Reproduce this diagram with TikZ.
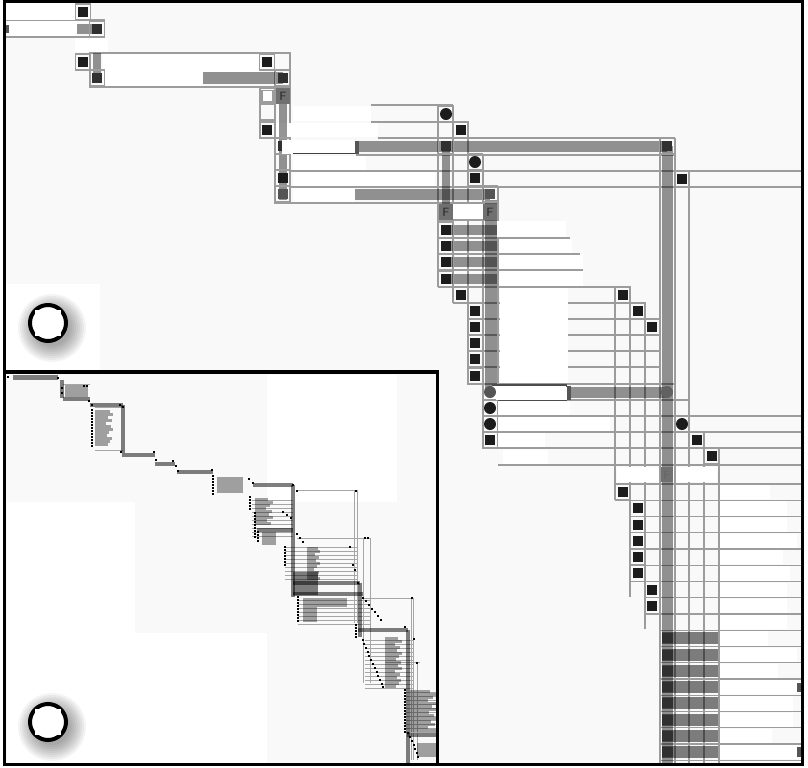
\documentclass[tikz,border=0pt]{standalone}
\usetikzlibrary{calc}
\definecolor{bgc}{HTML}{F9F9F9}
\definecolor{linec}{HTML}{9C9C9C}
\definecolor{sqc}{HTML}{1C1C1C}
\definecolor{dkc}{HTML}{303030}
\definecolor{mgc}{HTML}{555555}
\definecolor{fgc}{HTML}{707070}
\newcommand\Mbox[2]{\draw[cellline] (#1-7.5,#2-8) rectangle (#1+7.5,#2+8);}
\newcommand\Msq[2]{\Mbox{#1}{#2}\fill[sqc] (#1-5,#2-5) rectangle (#1+5,#2+5);}
\newcommand\Mdk[2]{\Mbox{#1}{#2}\fill[dkc] (#1-5,#2-5) rectangle (#1+5,#2+5);}
\newcommand\Mgr[2]{\Mbox{#1}{#2}\fill[mgc] (#1-5,#2-5) rectangle (#1+5,#2+5);}
\newcommand\Mci[2]{\Mbox{#1}{#2}\fill[sqc] (#1,#2) circle[radius=6];}
\newcommand\Idot[2]{\fill[black] (#1-1.4,#2-1.4) rectangle (#1+1.4,#2+1.4);}
\newcommand\Ibars[4]{% x0, y0, step, list of ends
  \foreach \e [count=\i from 0] in {#4} {\fill[black, fill opacity=0.36] (#1,#2+#3*\i) rectangle (\e,#2+#3*\i+2.6);}}
\begin{document}
\begin{tikzpicture}[x=0.75pt,y=-0.75pt,
  cellline/.style={draw=linec, line width=0.8pt},
  band/.style={draw=black, draw opacity=0.42, line width=#1, line cap=butt},
  band/.default=8.25pt,
  iband/.style={draw=black, draw opacity=0.5, line width=#1, line cap=butt},
  iband/.default=3pt,
  iblock/.style={fill=black, fill opacity=0.36},
  ithin/.style={draw=gray!70, line width=0.4pt},
  fbox/.style={fill=fgc},
  ftext/.style={font=\sffamily\fontsize{9}{9}\selectfont, text=black!85, inner sep=0pt}]
\useasboundingbox (0,0) rectangle (808,768);
\fill[white] (0,0) rectangle (808,768);
\fill[bgc] (4,1) rectangle (803,765);
\fill[white] (6,284) rectangle (100,370);

% ---------- thin grid lines ----------
\draw[cellline] (6,20)--(105,20) (6,37)--(105,37)
  (90,53) rectangle (290,87)
  (260,88) rectangle (275,138)
  (275,70) rectangle (290,203)
  (260,104) rectangle (275,120)
  (371,105)--(453,105) (371,122)--(468,122)
  (378,138)--(675,138) (356,155)--(675,155)
  (290,171)--(801,171) (290,187)--(801,187)
  (290,203)--(498,203) (438,220)--(498,220)
  (438,238)--(570,238) (438,254)--(580,254) (438,270)--(583,270) (438,287)--(630,287)
  (453,303)--(645,303) (468,319)--(660,319) (468,335)--(660,335) (468,351)--(660,351)
  (468,367)--(660,367) (468,384)--(675,384)
  (483,400)--(689,400) (483,416)--(801,416) (483,432)--(801,432) (483,448)--(801,448)
  (498,465)--(801,465)
  (438,105)--(438,287) (453,105)--(453,303) (468,122)--(468,384) (483,155)--(483,448) (498,187)--(498,448)
  (615,287)--(615,500) (630,287)--(630,597) (645,303)--(645,629) (660,138)--(660,765)
  (675,138)--(675,765) (689,171)--(689,765) (704,432)--(704,765) (719,448)--(719,765);
\foreach \k/\xs in {0/615,1/615,2/630,3/630,4/630,5/630,6/630,7/645,8/645,9/660,10/660,11/660,12/660,13/660,14/660,15/660,16/660,17/660}
  {\draw[cellline] (\xs,484+16.25*\k) -- (801,484+16.25*\k);}

% ---------- white rectangles ----------
\foreach \a/\b/\c/\d in {6/3/76/19.5, 8/21/77/36, 75/38/108/52, 103/54/260/72, 103/72/203/86,
  293/106/371/121, 276/123/378/137, 293/156/366/170, 293/172/435/186, 293/188/355/202,
  453/204/483/219, 494/221/566/237, 499/239/572/253, 499/255/583/269, 499/271/583/286,
  500/288/568/383, 498/401/570/415, 498/417/610/431, 498/433/545/447, 503/450/548/464,
  617/467/659/482, 676/467/717/482}
  {\fill[white] (\a,\b) rectangle (\c,\d);}
\foreach \k/\xe in {0/770,1/787,2/787,3/797,4/783,5/790,6/787,7/787,8/787,9/768,10/797,11/778,12/798,13/793,14/793,15/772,16/797}
  {\fill[white] (720,485+16.25*\k) rectangle (\xe,483+16.25*\k+16.25);}
\fill[mgc] (797,683) rectangle (801,692);
\fill[mgc] (797,747) rectangle (801,757);
\fill[mgc] (6,25) rectangle (9,33);

% ---------- thick bands ----------
\draw[band=7.5pt] (77,29)--(92,29);
\draw[band=6pt] (97,53)--(97,75);
\draw[band=9pt] (203,78)--(283,78);
\draw[band=6.5pt] (283,96)--(283,200);
\draw[band] (356,146.5)--(667,146.5);
\draw[band] (355,194)--(490,194);
\draw[band=6pt] (446,146)--(446,212);
\foreach \y in {230,246,262,279} {\draw[band=8pt] (446,\y)--(497,\y);}
\draw[band=9pt] (491,200)--(491,392);
\draw[band] (567,392)--(667,392);
\draw[band] (667,146)--(667,765);
\foreach \k in {0,...,7} {\fill[black, fill opacity=0.5] (662,632.25+16.25*\k) rectangle (718,644.25+16.25*\k);}

% ---------- row 392 white bar ----------
\fill[white] (492,386) rectangle (567,400);
\draw[black!70, line width=0.9pt] (492,385)--(567,385) (495,400)--(567,400);
\fill[mgc] (566,386) rectangle (571,400);

% ---------- squares, circles, F boxes ----------
\Msq{83}{12} \Msq{83}{62} \Msq{267}{62} \Msq{267}{130} \Msq{283}{178}
\Mdk{97}{29} \Mdk{97}{78} \Mdk{283}{78} \Mdk{283}{146}
\Mgr{283}{194} \Mgr{490}{194}
\Msq{461}{130} \Mdk{446}{146} \Mdk{667}{146} \Msq{475}{178} \Msq{682}{179}
\Msq{446}{230} \Msq{446}{246} \Msq{446}{262} \Msq{446}{279}
\Msq{461}{295} \Msq{623}{295} \Msq{475}{311} \Msq{638}{311} \Msq{475}{327} \Msq{652}{327}
\Msq{475}{343} \Msq{475}{359} \Msq{475}{376}
\Msq{490}{440} \Msq{697}{440} \Msq{712}{456} \Msq{623}{492}
\foreach \y in {508.25,524.5,540.75,557,573.25} {\Msq{638}{\y}}
\Msq{652}{589.5} \Msq{652}{605.75}
\foreach \k in {0,...,7} {\fill[dkc] (662,633.25+16.25*\k) rectangle (673,643.25+16.25*\k);}
\Mci{446}{114} \Mci{475}{162} \Mci{490}{408} \Mci{490}{424} \Mci{682}{424}
\fill[mgc] (490,392) circle[radius=6];
\fill[white] (496,387) rectangle (567,399.5);
\fill[black!62] (667,392) circle[radius=6];
\fill[white] (282,140) rectangle (356,154);
\draw[black!75, line width=0.9pt] (293,153.5)--(356,153.5);
\fill[mgc] (355,141) rectangle (359,154);
\draw[cellline, fill=white] (262,90.5) rectangle (273,102);
\fill[fbox] (276,88) rectangle (290,104);
\node[ftext] (f1) at (283,96) {F};
\fill[fbox] (439,204) rectangle (453,220);
\node[ftext] (f2) at (446,212) {F};
\fill[fbox] (483,204) rectangle (497,220);
\node[ftext] (f3) at (490,212) {F};
\fill[fbox] (661,467) rectangle (673,482);
\node[ftext, text=black!60] (f4) at (667,475) {F};

% ---------- inset ----------
\fill[bgc] (6,374) rectangle (436,763);
\fill[white] (7,502) rectangle (135,633);
\fill[white] (7,633) rectangle (267,763);
\fill[white] (267,375) rectangle (397,502);
\draw[ithin] (297,490)--(357,490) (354,490)--(354,623) (357,490)--(357,623)
  (297,538)--(370,538) (363,538)--(363,683) (370,538)--(370,683)
  (363,598)--(413,598) (411,598)--(411,760) (413,598)--(413,760)
  (385,662)--(420,662) (417,662)--(417,760)
  (95,407)--(123,407) (95,450)--(123,450) (63,384)--(90,384);
\foreach \y in {547,551,...,579} {\draw[ithin] (285,\y)--(357,\y);}
\foreach \y in {600,604,...,624} {\draw[ithin] (298,\y)--(370,\y);}
\foreach \y in {640,644,...,688} {\draw[ithin] (365,\y)--(413,\y);}
\foreach \y in {692,696,...,732} {\draw[ithin] (405,\y)--(437,\y);}
\foreach \y in {500,504,...,536} {\draw[ithin] (252,\y)--(293,\y);}
\foreach \a/\b/\c/\d in {65/385/88/397, 217/477/243/493, 262/532/276/545, 303/598/347/607, 303/607/317/622, 417/743/437/757}
  {\fill[iblock] (\a,\b) rectangle (\c,\d);}
\Ibars{95}{410}{3}{110,113,108,112,106,111,113,109,107,112,110,108}
\Ibars{255}{498}{3}{268,273,270,266,272,269,273,267,271}
\Ibars{307}{547}{3}{318,320,315,319,316,320,317,314,319,318,320}
\Ibars{385}{637}{3}{398,402,395,400,397,402,399,396,401,398,402,395,400,397,401,399,396}
\Ibars{410}{690}{3}{430,437,433,428,436,432,437,429,434,437,431,435,428,436}
\fill[black, fill opacity=0.5] (293,572) rectangle (318,595);
\draw[iband=4pt] (13,377.5)--(58,377.5);
\draw[iband] (62,380)--(62,398);
\draw[iband] (63,398.5)--(90,398.5);
\draw[iband] (90,405)--(123,405);
\draw[iband] (123,405)--(123,453);
\draw[iband] (122,455)--(155,455);
\draw[iband] (155,463.5)--(175,463.5);
\draw[iband] (177,472)--(213,472);
\draw[iband] (253,485)--(293,485);
\draw[iband=3.2pt] (293,485)--(293,597);
\draw[iband] (257,530)--(293,530);
\draw[iband=3.2pt] (293,583)--(360,583);
\draw[iband=3.2pt] (293,594)--(363,594);
\draw[iband] (360,583)--(360,637);
\draw[iband=3.2pt] (358,630)--(408,630);
\draw[iband=3.2pt] (408,630)--(408,763);
\draw[iband=3.2pt] (407,735)--(437,735);
\foreach \x/\y in {8/377,58/378,62/388,62/393,84/386,87/386,89/401,92/405,120/405,123/407,
  121/452,154/452,156/460,173/461,176/466,178/471,212/470,
  249/479,253/483,293/485,297/491,356/491,283/512,287/515,291/518,
  297/534,300/538,303/542,365/538,368/538,350/547,353/565,355/570,358/583,
  412/598,363/598,366/601,369/605,372/609,375/612,378/616,381/620,405/627,414/639,
  363/640,364/644,366/648,368/652,369/656,371/660,373/664,375/668,377/672,378/676,380/680,382/684,383/687,
  417/663,408/733,410/737,412/741,414/745,415/749,417/753,418/757}
  {\Idot{\x}{\y}}
\foreach \y in {410,413,...,447} {\Idot{92}{\y}}
\foreach \y in {476,479,...,494} {\Idot{213}{\y}}
\foreach \y in {497,500,...,510} {\Idot{250}{\y}}
\foreach \y in {513,516,...,538} {\Idot{255}{\y}}
\foreach \y in {532,535,...,541} {\Idot{258}{\y}}
\foreach \y in {547,550,...,567} {\Idot{285}{\y}}
\foreach \y in {597,600,...,622} {\Idot{298}{\y}}
\foreach \y in {625,628,...,637} {\Idot{356}{\y}}
\foreach \y in {690,693,...,733} {\Idot{405}{\y}}

% ---------- shadowed rings ----------
\foreach \cy in {323,722} {
  \foreach \r in {34,32,...,18} {\fill[black, fill opacity=0.045] (52,\cy+5) circle[radius=\r];}
  \draw[black, line width=3pt, fill=white] (48,\cy) circle[radius=18];
  \fill[white] (35,\cy-13) rectangle (61,\cy+13);
}

% ---------- frames ----------
\draw[black, line width=2.4pt] (4.5,372) rectangle (437.5,764.5);
\draw[black, line width=2.4pt] (4.5,1.5) rectangle (802.5,764.5);
\end{tikzpicture}
\end{document}
